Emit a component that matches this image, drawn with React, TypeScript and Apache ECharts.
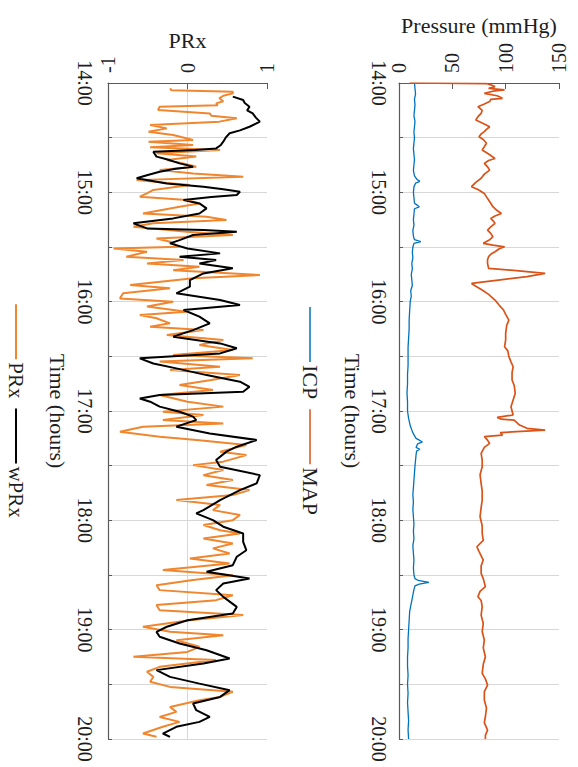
import React, { useEffect, useRef } from 'react';
import * as echarts from 'echarts';

// Time ticks (minutes after 14:00) and labels
const hourLabels = ['14:00', '15:00', '16:00', '17:00', '18:00', '19:00', '20:00'];
const pressureRange = [0, 150];
const prxRange = [-1, 1];

// [minutes after 14:00, mmHg]
const icpData: [number, number][] = [
  [0, 14.5], [3, 15], [6, 15.5], [9, 14.5], [12, 15], [15, 14.5], [18, 14], [21, 15], [24, 14.5], [27, 14], [30, 14.5],
  [33, 14], [36, 13.5], [39, 14], [42, 14.5], [45, 14], [48, 13.5], [51, 14.5], [53, 17], [54, 19.5], [55, 15.5], [57, 14],
  [60, 13.5], [63, 14], [66, 14.5], [67, 17], [68, 19], [69, 14.5], [72, 14], [75, 13.5], [78, 14], [81, 13], [84, 13.5],
  [86, 14.5], [87, 20.5], [88, 14], [90, 13], [93, 12.5], [96, 13], [99, 12], [102, 12.5], [105, 11.5], [108, 12],
  [111, 12.5], [114, 11], [117, 11.5], [120, 10.5], [125, 10], [130, 9.5], [135, 9.5], [140, 9], [145, 8.5], [150, 8.5],
  [155, 8.5], [160, 8], [165, 8], [170, 7.5], [175, 8], [180, 8], [184, 9], [188, 10.5], [192, 13], [195, 16], [196, 19],
  [197, 22], [198, 17.5], [200, 16], [201, 19.5], [202, 16.5], [204, 16], [207, 15.5], [210, 15], [214, 14.5], [218, 14],
  [222, 13.5], [226, 13], [230, 13.5], [234, 13], [238, 13.5], [242, 14], [246, 13.5], [250, 14], [254, 13], [258, 13.5],
  [262, 14], [266, 13.5], [270, 14], [272, 15], [273, 18], [274, 28], [275, 19], [276, 15], [278, 14], [281, 13], [284, 12],
  [287, 11], [290, 10], [295, 9.5], [300, 9], [305, 8.5], [310, 8.5], [315, 8], [320, 8], [325, 8.5], [330, 8],
  [335, 8.5], [340, 8], [345, 8.5], [350, 9], [355, 8.5], [360, 9],
];

const mapData: [number, number][] = [
  [0, 10], [0.3, 82], [1, 86], [2, 90], [3, 84], [3.8, 99], [4.5, 88], [5.7, 80], [7, 92], [8.4, 97], [9, 86], [10.2, 85],
  [11.5, 80], [13, 74], [15, 78], [16.7, 77], [18.5, 74], [20.3, 72], [22, 78], [24, 85], [25.5, 82], [26.7, 80], [28, 77],
  [29.5, 75], [31, 79], [33.1, 82], [35, 80], [36.8, 78], [39, 84], [41.4, 90], [42.5, 84], [44.1, 80], [46, 83], [47.8, 85],
  [50, 80], [52.3, 77], [54.5, 72], [56.9, 68], [58.5, 74], [60.6, 80], [62.5, 82], [64.2, 84], [66, 86], [67.9, 88],
  [70, 92], [71.6, 96], [73, 90], [74.3, 86], [75.5, 88], [77, 90], [79, 86], [80.7, 83], [82.5, 86], [84.4, 88], [86, 85],
  [88, 79], [89, 88], [89.9, 99], [91, 94], [92.6, 90], [94, 86], [95.3, 84], [97, 83], [99, 83], [101.7, 84], [103, 110],
  [104.5, 137], [106.3, 120], [108, 95], [110, 68], [111.5, 72], [113.6, 78], [116, 84], [119.1, 90], [122, 94], [124.6, 98],
  [127, 100], [130.1, 103], [133, 101], [137.4, 100], [141, 100], [144.7, 99], [147, 102], [150.2, 103], [153, 105],
  [155.7, 107], [159, 106], [163, 106], [166, 108], [170.3, 109], [174, 107], [177.7, 105], [180, 106], [182.2, 107],
  [183.5, 92], [184.5, 96], [185, 108], [187.7, 113], [189.5, 120], [190.5, 137], [191.3, 110], [191.9, 95], [193.2, 97],
  [194.1, 80], [196, 83], [197.8, 85], [200, 80], [203.3, 77], [207, 78], [210.6, 78], [215, 76], [219.7, 77], [224, 78],
  [228.9, 78], [233, 77], [238, 76], [243, 78], [247.2, 78], [251, 79], [254.5, 73], [257, 75], [261.8, 79], [265, 77],
  [269.1, 77], [272, 79], [276.4, 81], [279, 76], [281.9, 74], [284, 77], [287.4, 78], [292, 77], [296.6, 79], [301, 78],
  [305.7, 80], [310, 79], [314.9, 81], [319, 79], [324, 78], [327, 81], [330.4, 83], [334, 80], [338.6, 80], [343, 82],
  [347.8, 81], [351, 80], [355.1, 83], [358, 81], [360, 81],
];

// [minutes after 14:00, index]
const prxData: [number, number][] = [
  [2.9, -0.22], [4, -0.2], [4.8, 0.57], [5.7, 0.57], [7, 0.45], [8.4, 0.4], [10, 0.45], [11.2, 0.36], [12.2, 0.38],
  [13, -0.35], [14.8, -0.37], [16.7, 0.28], [18, 0.3], [19.4, 0.62], [21.2, 0.4], [23.1, -0.47], [24.9, -0.26],
  [26.7, -0.49], [28.5, -0.18], [31.3, 0.07], [32.2, -0.49], [34, 0.07], [35.3, -0.47], [36.8, 0.41], [38.6, -0.39],
  [40.4, 0.11], [42.3, -0.26], [44.1, -0.05], [45.9, 0.11], [47.8, -0.35], [49.6, 0.07], [51.4, 0.7], [53.3, -0.64],
  [56, 0.03], [58.7, -0.43], [60.6, -0.51], [62.4, -0.6], [64.2, -0.01], [66.1, 0.15], [67.9, -0.1], [71.6, -0.56],
  [73.4, 0.24], [75.2, 0.49], [77, -0.43], [78.9, -0.68], [81.6, -0.01], [83.4, 0.57], [85.3, -0.39], [87.1, -0.22],
  [89.9, -0.1], [90.8, -0.93], [92.6, -0.51], [95.3, -0.77], [97.2, -0.05], [99, -0.51], [100.8, 0.15], [102.7, -0.18],
  [105.4, 0.91], [107.2, 0.07], [110.8, -0.72], [112.7, -0.22], [115.4, -0.81], [118.2, -0.85], [120, -0.18],
  [122.7, -0.51], [125.5, -0.01], [127.3, -0.6], [129.1, -0.39], [131.9, -0.22], [133.7, -0.47], [135.6, 0.2],
  [138.3, -0.26], [141, 0.45], [143.8, 0.15], [146.5, 0.57], [149.3, -0.18], [151.1, 0.82], [152.9, -0.35], [155.7, 0.41],
  [157.5, -0.22], [160.3, 0.66], [163, 0.3], [165.7, -0.1], [168.5, 0.32], [171.2, -0.35], [174.9, 0], [177.6, 0.45],
  [180.4, -0.31], [182.2, 0.2], [185, -0.31], [186.8, 0.45], [188.6, -0.56], [191.4, -0.85], [194.1, -0.35], [196, 0.15],
  [198.7, 0.74], [200.5, 0.57], [202.3, 0.41], [204.2, 0.74], [207.8, 0.45], [209.7, 0.07], [212.4, 0.45], [215.2, 0.2],
  [217.9, 0.57], [220.6, 0.24], [223.4, 0.78], [226.1, 0.57], [228.9, -0.14], [231.6, 0.41], [234.4, 0.32], [237.1, 0.66],
  [239.9, 0.57], [242.6, 0.2], [245.4, 0.41], [247.2, 0.66], [250, 0.2], [252.7, 0.57], [255.4, 0.32], [258.2, 0.53],
  [260.9, 0.03], [263.7, 0.53], [267.3, -0.31], [270.1, 0.57], [272.8, 0.07], [275.6, -0.39], [278.3, -0.35], [281.1, 0.57],
  [283.8, 0.36], [286.5, -0.39], [289.3, -0.35], [292, 0.7], [294.8, 0.03], [298.4, -0.56], [301.2, -0.22], [303, 0.45],
  [305.8, -0.14], [309.4, 0.15], [312.2, 0], [314.9, -0.68], [316.7, 0.36], [320.4, -0.35], [323.1, -0.51], [325.9, -0.43],
  [328.6, -0.47], [331.4, -0.22], [334.1, 0.57], [336.9, 0.41], [338.7, 0.15], [342.4, -0.22], [345.1, -0.14],
  [347.9, -0.35], [350.6, -0.1], [353.3, -0.31], [357, -0.56], [358.8, -0.39],
];

const wprxData: [number, number][] = [
  [7.5, 0.57], [9.3, 0.7], [11, 0.72], [13, 0.78], [15, 0.75], [16.7, 0.82], [19, 0.86], [21.2, 0.91], [24, 0.78],
  [26, 0.66], [27.6, 0.53], [30, 0.48], [32.2, 0.45], [34, 0.42], [35.9, 0.36], [36.8, 0.1], [37.7, -0.43], [40.4, -0.39],
  [42, -0.25], [44.1, -0.1], [45.9, 0.07], [47, -0.15], [48.7, -0.35], [50.5, -0.5], [52.3, -0.64], [55.1, -0.26],
  [56.9, 0.2], [58.3, 0.45], [59.7, 0.66], [61.5, 0.62], [62.5, 0.3], [64.2, -0.05], [66.1, 0.15], [68.8, 0.24],
  [71.6, 0.15], [74.3, -0.18], [77, -0.68], [79.8, -0.51], [80.7, 0.2], [81.6, 0.62], [83.4, 0.07], [86.2, -0.1],
  [88, -0.22], [90.8, 0], [93.5, 0.41], [95.3, -0.1], [97.2, 0.36], [99, 0.15], [101.7, 0.57], [104.5, 0.2], [108.2, 0.03],
  [111.8, 0.03], [115.4, -0.14], [119.1, 0.41], [121.8, 0.66], [124.6, -0.05], [128.2, 0.15], [131.9, 0.28], [135.6, 0.07],
  [139.2, -0.18], [142.9, 0.41], [145.6, 0.62], [148.4, 0.41], [151.1, -0.6], [153.9, -0.43], [156.6, -0.14], [160.3, 0.24],
  [163.9, 0.66], [166.7, 0.78], [169.4, 0.7], [171.2, -0.35], [173.1, -0.6], [174.9, -0.47], [177.6, -0.35], [180.4, -0.1],
  [183.1, 0.07], [185, 0.11], [188.6, -0.14], [192.3, 0.28], [195.9, 0.87], [199.6, 0.62], [202.3, 0.49], [206.9, 0.36],
  [210.6, 0.41], [215.2, 0.91], [219.7, 0.87], [223.4, 0.66], [228.9, 0.41], [234.4, 0.2], [236.2, 0.11], [239.9, 0.32],
  [243.5, 0.45], [247.2, 0.7], [251.8, 0.7], [256.4, 0.74], [260, 0.62], [264.6, 0.57], [268.2, 0.24], [271.9, 0.78],
  [274.7, 0.45], [278.3, 0.36], [282, 0.45], [287.5, 0.62], [291.1, 0.57], [294.8, 0], [298.4, -0.26], [301.2, -0.39],
  [303.9, -0.35], [307.6, -0.1], [311.3, 0.24], [315.8, 0.53], [318.6, 0.2], [322.2, -0.39], [325.9, -0.22], [329.6, 0.15],
  [333.2, 0.53], [336.9, 0.41], [340.5, 0.07], [344.2, 0.11], [347.9, 0.28], [350.6, 0.15], [353.3, -0.14], [357, -0.31],
  [358.8, -0.22],
];

const FONT = "'Liberation Serif', 'Times New Roman', serif";
const TEXT = '#1e1e1e';
const AXIS = '#5a5a5a';
const GRIDC = '#d7d7d7';
const ICP_C = '#0072BD';
const MAP_C = '#D95319';
const PRX_C = '#F0862E';
const WPRX_C = '#000000';

function measure(text: string, size: number) {
  const ctx = document.createElement('canvas').getContext('2d');
  if (!ctx) return text.length * size * 0.5;
  ctx.font = `${size}px 'Liberation Serif'`;
  return ctx.measureText(text).width;
}

function textStyle(text: string, size: number, align: string) {
  return {
    text, fontSize: size, fontFamily: FONT, fill: TEXT,
    align, verticalAlign: 'middle', textAlign: align, textVerticalAlign: 'middle',
  };
}

function legendGroup(cx: number, cy: number, items: { name: string; color: string; width: number }[], size: number) {
  const lineLen = 55;
  const gapLT = 3;
  const gapItems = 10;
  const widths = items.map((it) => lineLen + gapLT + measure(it.name, size));
  const total = widths.reduce((a, b) => a + b, 0) + gapItems * (items.length - 1);
  const children: any[] = [];
  let pos = 0;
  items.forEach((it, i) => {
    children.push({ type: 'line', shape: { x1: pos, y1: 0, x2: pos + lineLen, y2: 0 }, style: { stroke: it.color, lineWidth: it.width } });
    children.push({ type: 'text', x: pos + lineLen + gapLT, y: 0, style: textStyle(it.name, size, 'left') });
    pos += widths[i] + gapItems;
  });
  return { type: 'group', x: cx, y: cy - total / 2, rotation: -Math.PI / 2, children };
}

const GRID_TOP = 83;
const GRID_H = 656;
const P_LEFT = 399;
const P_W = 160;
const R_LEFT = 108;
const R_W = 159;

function timeAxis(gridIndex: number, margin: number) {
  return {
    gridIndex, type: 'value', inverse: true, min: 0, max: 360, interval: 30,
    axisLine: { show: true, onZero: false, lineStyle: { color: AXIS, width: 1.2 } },
    axisTick: { show: true, inside: true, length: 4, lineStyle: { color: AXIS } },
    axisLabel: {
      rotate: -90, margin, fontSize: 20, fontFamily: FONT, color: TEXT,
      formatter: (v: number) => (v % 60 === 0 ? hourLabels[v / 60] : ''),
    },
    splitLine: { show: true, lineStyle: { color: GRIDC, width: 1 } },
  };
}

function valueAxis(gridIndex: number, range: number[], interval: number, showZero: boolean) {
  return {
    gridIndex, type: 'value', position: 'top', min: range[0], max: range[1], interval,
    axisLine: { show: true, onZero: false, lineStyle: { color: AXIS, width: 1.2 } },
    axisTick: { show: true, inside: true, length: 6, lineStyle: { color: AXIS } },
    axisLabel: { rotate: -90, margin: 10, fontSize: 20, fontFamily: FONT, color: TEXT },
    splitLine: { show: showZero, showMinLine: false, showMaxLine: false, lineStyle: { color: GRIDC, width: 1 } },
  };
}

export default function App() {
  const ref = useRef<HTMLDivElement>(null);
  useEffect(() => {
    if (!ref.current) return;
    const chart = echarts.init(ref.current, null, { renderer: 'svg' });
    const midY = GRID_TOP + GRID_H / 2;
    const flip = (d: [number, number][]) => d.map(([t, v]) => [v, t]);
    chart.setOption({
      animation: false,
      backgroundColor: '#ffffff',
      textStyle: { fontFamily: FONT },
      grid: [
        { left: P_LEFT, top: GRID_TOP, width: P_W, height: GRID_H, outerBoundsMode: 'none' },
        { left: R_LEFT, top: GRID_TOP, width: R_W, height: GRID_H, outerBoundsMode: 'none' },
      ],
      xAxis: [valueAxis(0, pressureRange, 50, false), valueAxis(1, prxRange, 1, true)],
      yAxis: [timeAxis(0, 10), timeAxis(1, 13)],
      series: [
        { name: 'ICP', type: 'line', xAxisIndex: 0, yAxisIndex: 0, data: flip(icpData), showSymbol: false, lineStyle: { color: ICP_C, width: 1.3 }, itemStyle: { color: ICP_C } },
        { name: 'MAP', type: 'line', xAxisIndex: 0, yAxisIndex: 0, data: flip(mapData), showSymbol: false, lineStyle: { color: MAP_C, width: 1.7 }, itemStyle: { color: MAP_C } },
        { name: 'PRx', type: 'line', xAxisIndex: 1, yAxisIndex: 1, data: flip(prxData), showSymbol: false, lineStyle: { color: PRX_C, width: 2 }, itemStyle: { color: PRX_C } },
        { name: 'wPRx', type: 'line', xAxisIndex: 1, yAxisIndex: 1, data: flip(wprxData), showSymbol: false, lineStyle: { color: WPRX_C, width: 2 }, itemStyle: { color: WPRX_C } },
      ],
      graphic: [
        { type: 'text', x: P_LEFT + P_W / 2, y: 25, style: textStyle('Pressure (mmHg)', 22, 'center') },
        { type: 'text', x: R_LEFT + R_W / 2, y: 40, style: textStyle('PRx', 22, 'center') },
        { type: 'text', x: 352, y: midY, rotation: -Math.PI / 2, style: textStyle('Time (hours)', 22, 'center') },
        { type: 'text', x: 57, y: midY, rotation: -Math.PI / 2, style: textStyle('Time (hours)', 22, 'center') },
        legendGroup(310, midY, [{ name: 'ICP', color: ICP_C, width: 1.5 }, { name: 'MAP', color: MAP_C, width: 1.5 }], 22),
        legendGroup(16, midY, [{ name: 'PRx', color: PRX_C, width: 2 }, { name: 'wPRx', color: WPRX_C, width: 2 }], 21),
      ],
    });
    return () => chart.dispose();
  }, []);
  return <div ref={ref} style={{ position: 'fixed', left: 0, top: 0, width: 578, height: 767, background: '#fff' }} />;
}
